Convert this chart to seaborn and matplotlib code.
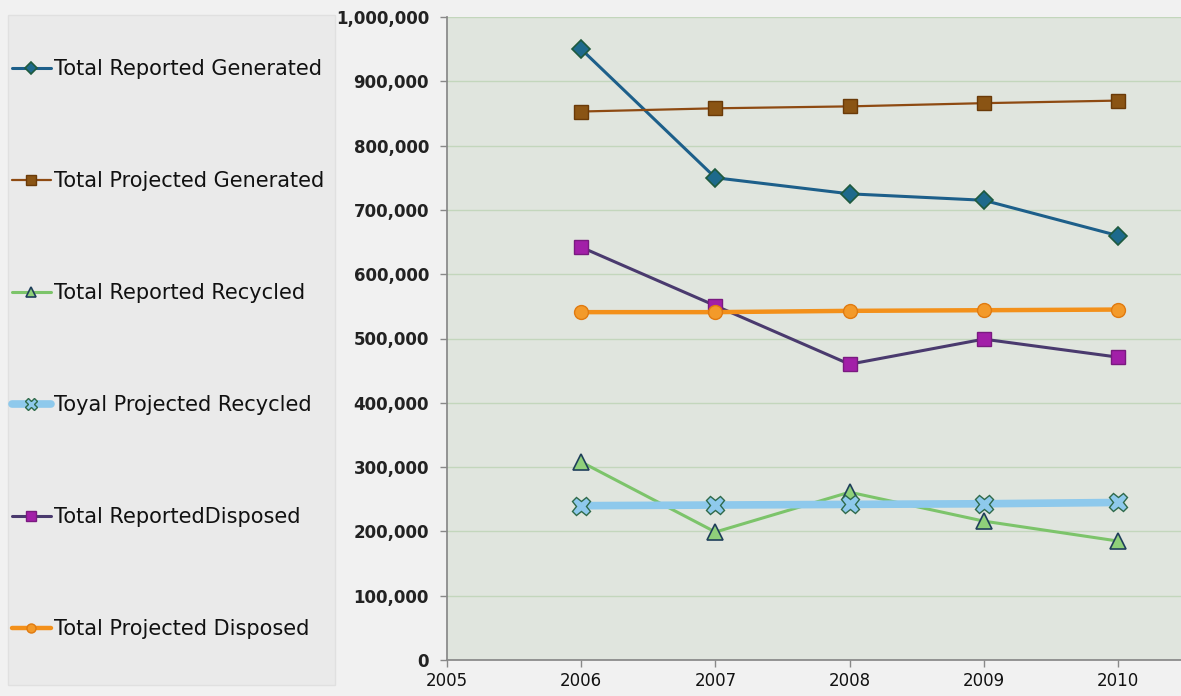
import matplotlib
matplotlib.use("Agg")
import matplotlib.pyplot as plt
import matplotlib.ticker as mticker
from matplotlib.patches import Rectangle
import seaborn as sns
import pandas as pd

years = [2006, 2007, 2008, 2009, 2010]
reported_generated = [950000, 750000, 725000, 715000, 660000]
projected_generated = [853000, 858000, 861000, 866000, 870000]
reported_recycled = [308000, 199000, 261000, 216000, 185000]
projected_recycled = [240000, 241000, 242000, 243000, 245000]
reported_disposed = [642000, 551000, 460000, 499000, 471000]
projected_disposed = [541000, 541000, 543000, 544000, 545000]

labels = ["Total Reported Generated", "Total Projected Generated",
          "Total Reported Recycled", "Toyal Projected Recycled",
          "Total ReportedDisposed", "Total Projected Disposed"]
series = [reported_generated, projected_generated, reported_recycled,
          projected_recycled, reported_disposed, projected_disposed]

styles = [
    dict(color="#1d5f8a", lw=2.2, marker="D", ms=9, mfc="#1e6a8c", mec="#1e5a3e", mew=1.2),
    dict(color="#8e4a12", lw=1.6, marker="s", ms=10, mfc="#8a5414", mec="#6a3a08", mew=1.0),
    dict(color="#7cc46a", lw=2.2, marker="^", ms=11, mfc="#8fd07a", mec="#1f3f5a", mew=1.2),
    dict(color="#8ec9ec", lw=5.5, marker="X", ms=13, mfc="#8ec9ec", mec="#2f6a4a", mew=1.0),
    dict(color="#4a3a6e", lw=2.2, marker="s", ms=10, mfc="#a21fa8", mec="#7a1a80", mew=1.0),
    dict(color="#f3901a", lw=3.2, marker="o", ms=10, mfc="#f39a2a", mec="#e07a10", mew=1.0),
]

sns.set_theme(style="white")
plt.rcParams['font.family'] = ['DejaVu Sans']

W, H = 1181, 696
fig = plt.figure(figsize=(W/100, H/100), dpi=100, facecolor="#f1f1f1")

# legend panel
fig.patches.append(Rectangle((8/W, 1 - 685/H), 327/W, 670/H, transform=fig.transFigure,
                             facecolor="#eaeaea", edgecolor="#e0e0e0", linewidth=1, zorder=0))

ax = fig.add_axes([447/W, 36/H, 1 - 447/W, (660-17)/H])
ax.set_facecolor("#e0e5de")

for lab, vals, st in zip(labels, series, styles):
    df = pd.DataFrame({"year": years, "value": vals})
    sns.lineplot(data=df, x="year", y="value", ax=ax, label=lab,
                 color=st["color"], linewidth=st["lw"], marker=st["marker"],
                 markersize=st["ms"], markerfacecolor=st["mfc"],
                 markeredgecolor=st["mec"], markeredgewidth=st["mew"])

ax.set_xlim(2005, 2010.47)
ax.set_ylim(0, 1000000)
ax.set_xticks([2005, 2006, 2007, 2008, 2009, 2010])
ax.set_yticks(range(0, 1000001, 100000))
ax.yaxis.set_major_formatter(mticker.FuncFormatter(lambda v, p: f"{int(v):,}"))
ax.grid(axis="y", color="#c3d6bc", linewidth=1.0)
ax.set_axisbelow(True)
for s in ["top", "right"]:
    ax.spines[s].set_visible(False)
ax.spines["left"].set_color("#888888")
ax.spines["bottom"].set_color("#888888")
ax.tick_params(axis="both", which="major", length=5, width=1, color="#888888",
               direction="out", bottom=True, left=True)
ax.tick_params(axis="y", labelsize=12, pad=8)
ax.tick_params(axis="x", labelsize=12, pad=4)
for t in ax.get_yticklabels():
    t.set_fontweight("bold")
    t.set_color("#222222")
for t in ax.get_xticklabels():
    t.set_color("#111111")
ax.set_xlabel("")
ax.set_ylabel("")

handles, labs = ax.get_legend_handles_labels()
ax.get_legend().remove()
leg = fig.legend(handles, labs, loc="upper left",
                 bbox_to_anchor=(12/W, 1 - 59/H),
                 frameon=False, fontsize=15,
                 labelspacing=4.42, handlelength=1.85, handletextpad=0.15,
                 borderpad=0.0, borderaxespad=0.0, markerscale=0.65)
for t in leg.get_texts():
    t.set_color("#111111")

fig.savefig("out.png", dpi=100, facecolor=fig.get_facecolor())
